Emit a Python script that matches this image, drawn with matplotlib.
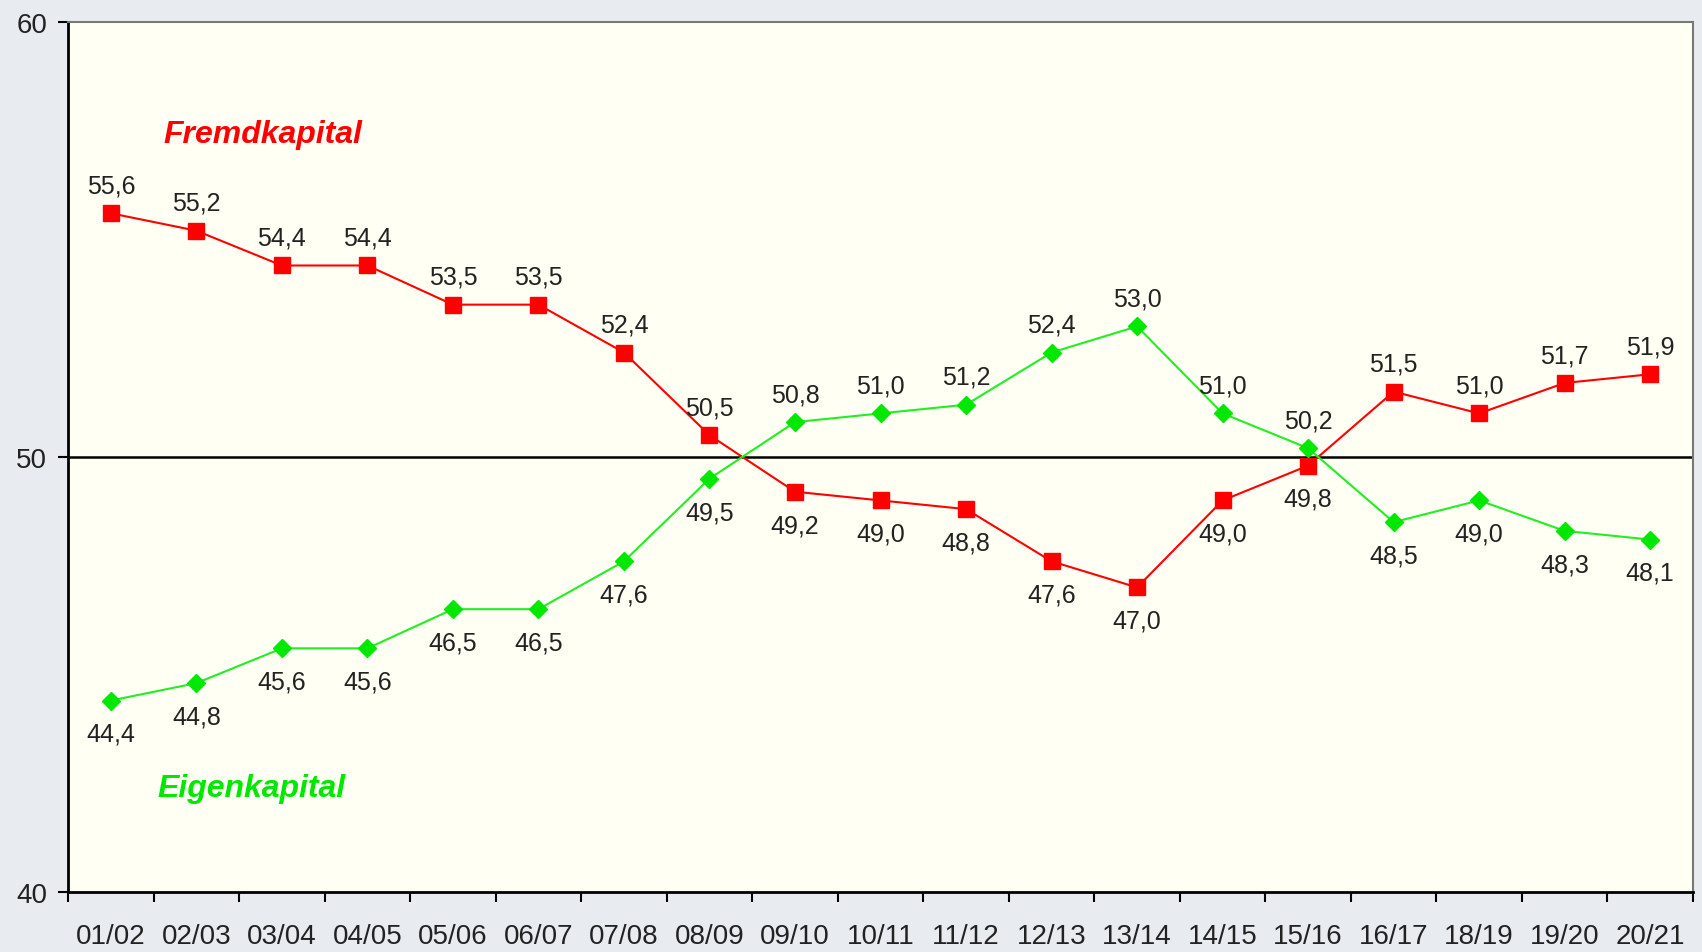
import matplotlib.pyplot as plt
import numpy as np

plt.rcParams['font.family'] = ['Liberation Sans', 'DejaVu Sans']

years = ['01/02', '02/03', '03/04', '04/05', '05/06', '06/07', '07/08', '08/09', '09/10',
         '10/11', '11/12', '12/13', '13/14', '14/15', '15/16', '16/17', '18/19', '19/20', '20/21']
fremd = [55.6, 55.2, 54.4, 54.4, 53.5, 53.5, 52.4, 50.5, 49.2, 49.0,
         48.8, 47.6, 47.0, 49.0, 49.8, 51.5, 51.0, 51.7, 51.9]
eigen = [44.4, 44.8, 45.6, 45.6, 46.5, 46.5, 47.6, 49.5, 50.8, 51.0,
         51.2, 52.4, 53.0, 51.0, 50.2, 48.5, 49.0, 48.3, 48.1]

red = '#ff0000'
green = '#00e800'
txt = '#222222'

fig = plt.figure(figsize=(17.02, 9.53), dpi=100, facecolor='#e8ecf1')
ax = fig.add_axes([0.040, 0.063, 0.9547, 0.913])
ax.set_facecolor('#fffff4')

x = np.arange(len(years))
ax.axhline(50, color='black', lw=1.8, zorder=1)
ax.plot(x, fremd, color=red, lw=1.5, marker='s', ms=11, mec=red, mfc=red, zorder=3)
ax.plot(x, eigen, color='#22ee22', lw=1.5, marker='D', ms=9, mec=green, mfc=green, zorder=3)


def label(xi, v):
    s = f'{v:.1f}'.replace('.', ',')
    if v > 50:
        ax.annotate(s, (xi, v), xytext=(0, 20), textcoords='offset points',
                    ha='center', va='center', fontsize=18, color=txt)
    else:
        ax.annotate(s, (xi, v), xytext=(0, -24), textcoords='offset points',
                    ha='center', va='center', fontsize=18, color=txt)


for xi, v in zip(x, fremd):
    label(xi, v)
for xi, v in zip(x, eigen):
    label(xi, v)

ax.text(1.78, 57.43, 'Fremdkapital', color=red, fontsize=23, fontweight='bold',
        fontstyle='italic', ha='center', va='center')
ax.text(1.64, 42.39, 'Eigenkapital', color=green, fontsize=23, fontweight='bold',
        fontstyle='italic', ha='center', va='center')

ax.set_xlim(-0.5, len(years) - 0.5)
ax.set_ylim(40, 60)
ax.set_yticks([40, 50, 60])
ax.set_yticklabels(['40', '50', '60'], fontsize=20, color=txt)

# labels in the middle of each category, tick marks on the borders
ax.set_xticks(x)
ax.set_xticklabels(years, fontsize=20, color=txt)
ax.set_xticks(np.arange(-0.5, len(years), 1.0), minor=True)
ax.tick_params(axis='x', which='major', length=0, pad=22)
ax.tick_params(axis='x', which='minor', length=7, width=1.5, color='black')
ax.tick_params(axis='y', length=7, width=1.5, pad=8)

for side in ['left', 'bottom']:
    ax.spines[side].set_linewidth(2)
    ax.spines[side].set_color('black')
for side in ['top', 'right']:
    ax.spines[side].set_linewidth(1.5)
    ax.spines[side].set_color('#777777')

plt.savefig('out.png', dpi=100, facecolor=fig.get_facecolor())
